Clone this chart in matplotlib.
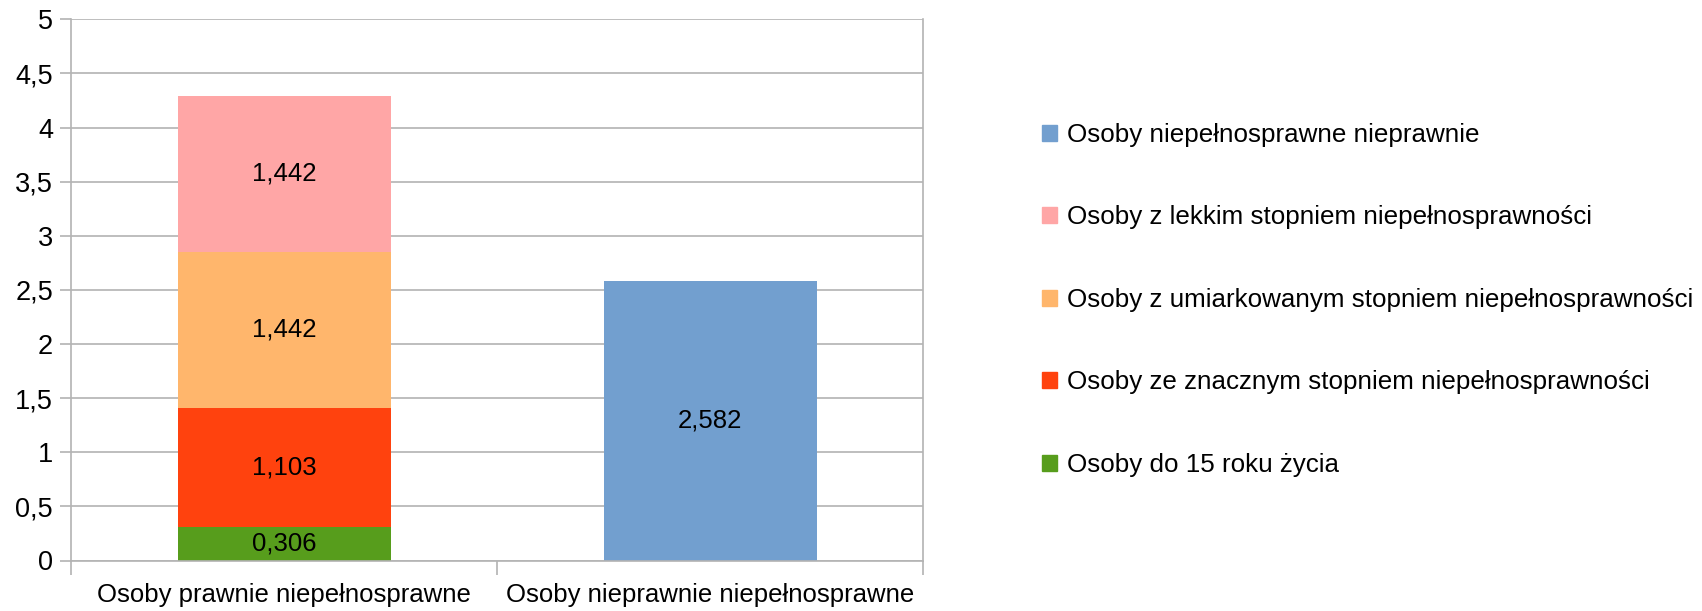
import matplotlib
matplotlib.use("Agg")
import matplotlib.pyplot as plt
from matplotlib.patches import Patch
from matplotlib.ticker import FuncFormatter, MultipleLocator

plt.rcParams['font.family'] = ['Liberation Sans', 'DejaVu Sans']

categories = ["Osoby prawnie niepełnosprawne", "Osoby nieprawnie niepełnosprawne"]
series_names = [
    "Osoby do 15 roku życia",
    "Osoby ze znacznym stopniem niepełnosprawności",
    "Osoby z umiarkowanym stopniem niepełnosprawności",
    "Osoby z lekkim stopniem niepełnosprawności",
    "Osoby niepełnosprawne nieprawnie",
]
series_values = [
    [0.306, 0.0],
    [1.103, 0.0],
    [1.442, 0.0],
    [1.442, 0.0],
    [0.0, 2.582],
]
colors = ["#579d1c", "#ff420e", "#ffb66c", "#ffa6a6", "#729fcf"]

FS = 18.5
W, H = 1702, 611
fig = plt.figure(figsize=(W / 100, H / 100), dpi=100)
ax = fig.add_axes([71 / W, 1 - 560.5 / H, (923 - 71) / W, (560.5 - 19.3) / H])

x = list(range(len(categories)))
bottom = [0.0] * len(categories)
for name, vals, col in zip(series_names, series_values, colors):
    ax.bar(x, vals, width=0.5, bottom=bottom, color=col, zorder=2, label=name)
    for i, v in enumerate(vals):
        if v > 0:
            s = f"{v:.3f}".replace(".", ",")
            ax.text(x[i], bottom[i] + v / 2, s, ha="center", va="center",
                    fontsize=FS, color="black", zorder=3)
    bottom = [b + v for b, v in zip(bottom, vals)]

ax.set_xlim(-0.5, 1.5)
ax.set_ylim(0, 5)
ax.yaxis.set_major_locator(MultipleLocator(0.5))
ax.yaxis.set_major_formatter(FuncFormatter(
    lambda v, p: (f"{v:g}").replace(".", ",")))
ax.grid(axis="y", color="#b3b3b3", linewidth=1.2, zorder=0)
ax.set_axisbelow(True)

ax.set_xticks(x)
ax.set_xticklabels(categories)
ax.set_xticks([-0.5, 0.5, 1.5], minor=True)
ax.tick_params(axis="x", which="major", length=0, pad=16, labelsize=FS)
ax.tick_params(axis="x", which="minor", length=10, color="#b3b3b3", width=1.2)
ax.tick_params(axis="y", length=8, color="#b3b3b3", width=1.2, labelsize=19.5, pad=5)

for side in ["left", "bottom", "right"]:
    ax.spines[side].set_color("#b3b3b3")
    ax.spines[side].set_linewidth(1.2)
ax.spines["top"].set_visible(False)

handles = [Patch(facecolor=c, edgecolor=c) for c in colors][::-1]
labels = series_names[::-1]
fig.legend(handles, labels, loc="upper left", bbox_to_anchor=(1042 / W, 1 - 123 / H),
           frameon=False, fontsize=18.7, handlelength=0.57, handleheight=0.57,
           handletextpad=0.4, labelspacing=2.25, borderaxespad=0, borderpad=0)

fig.savefig("out.png", dpi=100)
